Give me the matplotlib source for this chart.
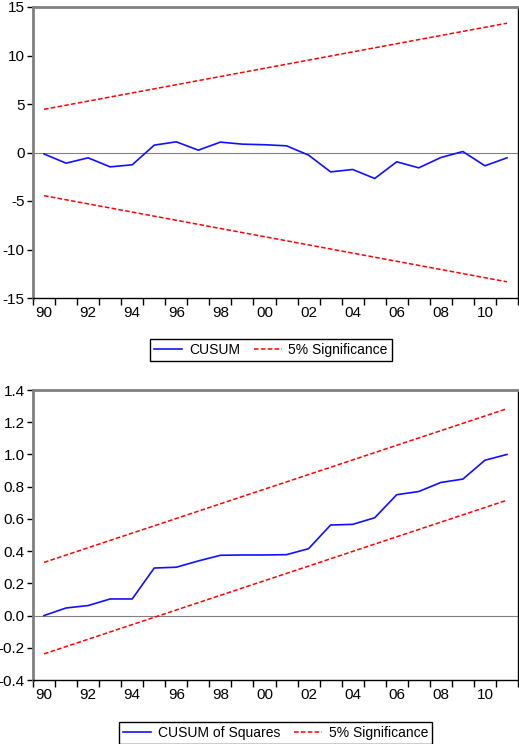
import numpy as np
import matplotlib
matplotlib.use('Agg')
import matplotlib.pyplot as plt

plt.rcParams['font.family'] = ['Liberation Sans', 'DejaVu Sans']
plt.rcParams['font.size'] = 10

# ============================================
# DATOS
# ============================================
years = list(range(1990, 2012))
year_labels = ['90', '92', '94', '96', '98', '00', '02', '04', '06', '08', '10']

cusum = [-0.15, -1.10, -0.55, -1.48, -1.27, 0.76, 1.10, 0.24, 1.07, 0.86, 0.80,
         0.69, -0.27, -2.00, -1.75, -2.68, -0.96, -1.58, -0.52, 0.10, -1.37, -0.55]
cusum_bound_years = [1990, 2011]
cusum_upper = [4.45, 13.33]
cusum_lower = [-4.45, -13.33]

cusumsq = [0.0, 0.047, 0.062, 0.103, 0.103, 0.295, 0.30, 0.339, 0.374, 0.376, 0.376,
           0.378, 0.415, 0.562, 0.566, 0.607, 0.75, 0.77, 0.826, 0.847, 0.964, 1.0]
sq_upper = [0.33, 1.284]
sq_lower = [-0.238, 0.716]

# ============================================
# FIGURA
# ============================================
fig = plt.figure(figsize=(5.19, 7.44), dpi=100)
ax1 = fig.add_axes([33/519, 1 - 298/744, 485/519, 291/744])
ax2 = fig.add_axes([33/519, 1 - 680/744, 485/519, 290/744])

x = np.arange(len(years))
xb = [years.index(y) for y in cusum_bound_years]


def estilo(ax, ylim, yticks, yfmt):
    ax.set_xlim(-0.5, len(years) - 0.5)
    ax.set_ylim(*ylim)
    ax.set_yticks(yticks)
    ax.set_yticklabels([yfmt.format(v) for v in yticks])
    # etiquetas en años pares, marcas en los bordes de cada año
    ax.set_xticks(x[::2])
    ax.set_xticklabels(year_labels)
    ax.set_xticks(np.arange(-0.5, len(years)), minor=True)
    ax.tick_params(axis='x', which='major', length=0, pad=6, labelsize=11)
    ax.tick_params(axis='x', which='minor', length=5, width=1, color='black')
    ax.tick_params(axis='y', length=4, width=1, color='black', pad=2, labelsize=11)
    ax.axhline(0, color='#808080', linewidth=0.8, zorder=1)
    ax.spines['top'].set_color('#808080')
    ax.spines['top'].set_linewidth(2)
    ax.spines['left'].set_color('#808080')
    ax.spines['left'].set_linewidth(2)
    ax.spines['right'].set_color('black')
    ax.spines['right'].set_linewidth(1)
    ax.spines['bottom'].set_color('black')
    ax.spines['bottom'].set_linewidth(1)


# Gráfica 1: CUSUM
ax1.plot(x, cusum, color='#1010ff', linewidth=1.2, label='CUSUM')
ax1.plot(xb, cusum_upper, color='red', linestyle='--', dashes=(3, 1.5), linewidth=1.1,
         label='5% Significance')
ax1.plot(xb, cusum_lower, color='red', linestyle='--', dashes=(3, 1.5), linewidth=1.1)
estilo(ax1, (-15, 15), [-15, -10, -5, 0, 5, 10, 15], '{:d}')
ax1.legend(loc='center', bbox_to_anchor=(271/519, 1 - 350/744), bbox_transform=fig.transFigure,
           ncol=2, frameon=True, fancybox=False, edgecolor='black', framealpha=1,
           handlelength=2.0, columnspacing=1.0, borderpad=0.3, handletextpad=0.5)

# Gráfica 2: CUSUM de cuadrados
ax2.plot(x, cusumsq, color='#1010ff', linewidth=1.2, label='CUSUM of Squares')
ax2.plot(xb, sq_upper, color='red', linestyle='--', dashes=(3, 1.5), linewidth=1.1,
         label='5% Significance')
ax2.plot(xb, sq_lower, color='red', linestyle='--', dashes=(3, 1.5), linewidth=1.1)
estilo(ax2, (-0.4, 1.4), [-0.4, -0.2, 0.0, 0.2, 0.4, 0.6, 0.8, 1.0, 1.2, 1.4], '{:.1f}')
ax2.legend(loc='center', bbox_to_anchor=(275.5/519, 1 - 733/744), bbox_transform=fig.transFigure,
           ncol=2, frameon=True, fancybox=False, edgecolor='black', framealpha=1,
           handlelength=2.0, columnspacing=1.0, borderpad=0.3, handletextpad=0.5)

fig.savefig('out.png', dpi=100)
plt.close(fig)
